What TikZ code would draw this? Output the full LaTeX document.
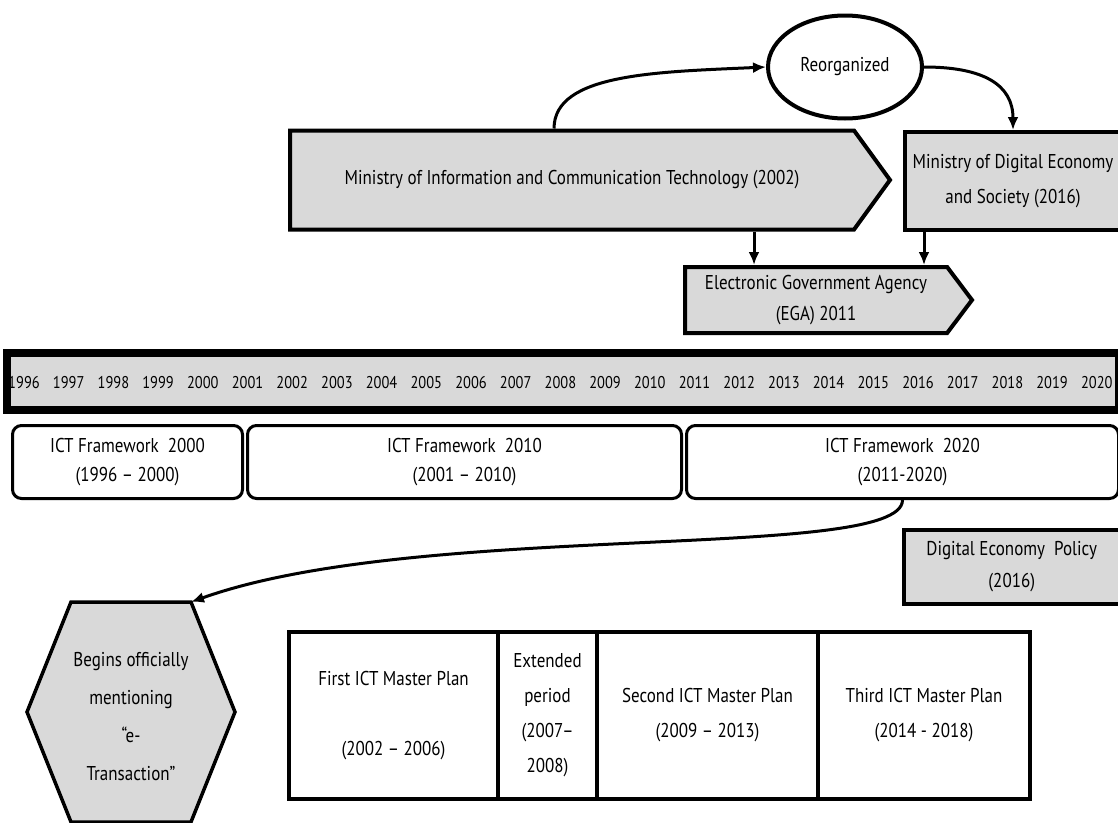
\documentclass[tikz,border=0pt]{standalone}
\usepackage{fontspec}
\setmainfont{PT Sans}[FakeStretch=0.85]
\usetikzlibrary{shapes.geometric,shapes.symbols,arrows.meta}
\definecolor{boxgray}{HTML}{D9D9D9}

\begin{document}
\begin{tikzpicture}[x=1pt,y=-1pt,
  every node/.style={font=\fontsize{20}{30}\selectfont},
  greybox/.style={draw,line width=4pt,fill=boxgray,align=center,inner sep=0pt},
  sigbox/.style={greybox,signal,signal to=east,signal pointer angle=#1},
  fwbox/.style={draw,line width=3pt,rounded corners=9pt,fill=white,align=center,
    minimum height=73pt,inner sep=0pt,font=\fontsize{20}{29}\selectfont},
  planbox/.style={draw,line width=4pt,align=center,minimum height=167pt,
    inner sep=0pt,font=\fontsize{20}{35}\selectfont},
  arr/.style={line width=3pt,-{Latex[length=13pt,width=11pt]}}]
   \useasboundingbox (0,0) rectangle (1118,822);
   % top: ministries
   \node[draw,ellipse,line width=4pt,minimum width=154pt,minimum height=103pt,inner sep=0pt] (reorg) at (845,67) {Reorganized};
   \node[sigbox=108,minimum width=600pt,minimum height=99pt,anchor=west] (ict) at (288,180) {Ministry of Information and Communication Technology (2002)};
   \node[greybox,minimum width=216pt,minimum height=98pt,anchor=north west,font=\fontsize{20}{35}\selectfont] (des) at (903,130) {Ministry of Digital Economy\\and Society (2016)};
   \node[sigbox=106,minimum width=287pt,minimum height=66pt,anchor=west,font=\fontsize{20}{31}\selectfont] (ega) at (683,300) {Electronic Government Agency\\(EGA) 2011};
   \coordinate (a1) at ([xshift=182pt]ict.south);
   \coordinate (a2) at ([xshift=-89pt]des.south);
   \draw[arr] ([xshift=-18pt]ict.north) .. controls +(0,-55) and +(-110,5) .. (reorg.west);
   \draw[arr] (reorg.east) .. controls +(60,0) and +(0,-45) .. (des.north);
   \draw[arr] (a1) -- (a1 |- ega.north);
   \draw[arr] (a2) -- (a2 |- ega.north);
   % timeline
   \node[draw,line width=8pt,fill=boxgray,minimum width=1112pt,minimum height=57pt,anchor=north west,inner sep=0pt] (years) at (3,349) {};
   \foreach \yr [count=\i from 0] in {1996,...,2020}
      \node[font=\fontsize{17}{17}\selectfont] (y\yr) at (24+44.7*\i,383) {\yr};
   % frameworks
   \node[fwbox,minimum width=230pt,anchor=north west] (fw2000) at (11,424) {ICT Framework\ \ 2000\\(1996 – 2000)};
   \node[fwbox,minimum width=434pt,anchor=north west] (fw2010) at (246,424) {ICT Framework\ \ 2010\\(2001 – 2010)};
   \node[fwbox,minimum width=432pt,anchor=north west] (fw2020) at (685,424) {ICT Framework\ \ 2020\\(2011-2020)};
   \node[greybox,line width=3.5pt,minimum width=216pt,minimum height=74pt,anchor=north west,font=\fontsize{20}{32}\selectfont] (policy) at (902,528) {Digital Economy\ \ Policy\\(2016)};
   % hexagon
   \draw[line width=3.5pt,fill=boxgray] (71,602) -- (191,602) -- (235,712) -- (191,822) -- (71,822) -- (27,712) -- cycle;
   \node[align=center,font=\fontsize{20}{38}\selectfont] (etrans) at (131,717) {Begins officially\\mentioning\\“e-\\Transaction”};
   \coordinate (hexne) at (191,602);
   \draw[arr] (fw2020.south) .. controls +(0,62) and +(229,-82) .. (hexne);
   % master plans
   \node[planbox,minimum width=209pt,anchor=north west] (plan1) at (287,630) {First ICT Master Plan\\[35pt](2002 – 2006)};
   \node[planbox,minimum width=99pt,anchor=north west] (ext) at (496,630) {Extended\\period\\(2007–\\2008)};
   \node[planbox,minimum width=221pt,anchor=north west] (plan2) at (595,630) {Second ICT Master Plan\\(2009 – 2013)};
   \node[planbox,minimum width=212pt,anchor=north west] (plan3) at (816,630) {Third ICT Master Plan\\(2014 - 2018)};
\end{tikzpicture}
\end{document}
